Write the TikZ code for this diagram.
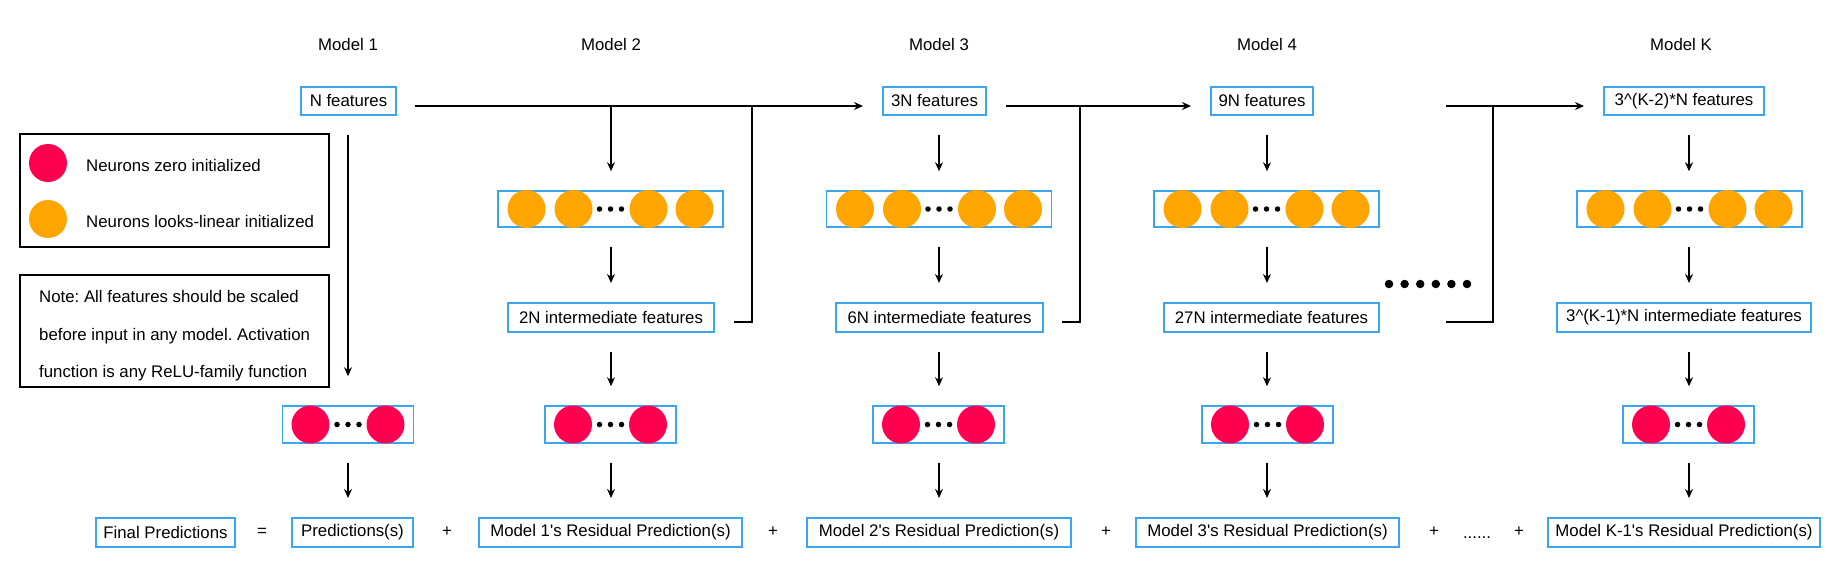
\documentclass[tikz,border=0pt]{standalone}
\usepackage{fontspec}
\setmainfont{Liberation Sans}
\usetikzlibrary{arrows.meta,calc}
\definecolor{bblue}{RGB}{60,165,240}
\definecolor{nred}{RGB}{255,0,80}
\definecolor{norange}{RGB}{255,165,0}
\newcommand\myfs{\fontsize{16.8}{20}\selectfont}
\newcommand\notefs{\fontsize{16.8}{37.5}\selectfont}
\frenchspacing
\begin{document}
\begin{tikzpicture}[x=1pt,y=-1pt,
 box/.style={draw=bblue, line width=2pt, inner sep=0pt, font=\myfs, minimum height=28pt},
 lbl/.style={font=\myfs, inner sep=0pt},
 nbox/.style={draw=bblue, line width=1.5pt, inner sep=0pt, minimum height=36pt},
 orn/.style={circle, fill=norange, minimum size=38pt, inner sep=0pt},
 rdn/.style={circle, fill=nred, minimum size=38pt, inner sep=0pt},
 ndot/.style={circle, fill=black, minimum size=5.5pt, inner sep=0pt},
 bdot/.style={circle, fill=black, minimum size=8.5pt, inner sep=0pt},
 arr/.style={-{Stealth[length=9pt,width=8pt]}, line width=2pt},
 link/.style={arr, shorten <=19pt, shorten >=19pt},
 wire/.style={line width=2pt},
 framebox/.style={draw=black, line width=2.5pt, inner sep=0pt, minimum width=309pt},
 ]
\useasboundingbox (0,0) rectangle (1838,588);

% columns
\coordinate (c1) at (348,0);
\coordinate (c2) at (611,0);
\coordinate (c3) at (939,0);
\coordinate (c4) at (1267,0);
\coordinate (cK) at (1689,0);

% titles
\node[lbl] (t1) at (348,44) {Model 1};
\node[lbl] (t2) at (611,44) {Model 2};
\node[lbl] (t3) at (939,44) {Model 3};
\node[lbl] (t4) at (1267,44) {Model 4};
\node[lbl] (tK) at (1681,44) {Model K};

% feature boxes
\node[box, minimum width=95pt] (f1) at (348.5,101) {N features};
\node[box, minimum width=103pt] (f3) at (934.5,101) {3N features};
\node[box, minimum width=102pt] (f4) at (1262,101) {9N features};
\node[box, minimum width=160pt] (fK) at (1684,101) {3\textasciicircum(K-2)*N features};

% orange layers
\foreach \n/\x in {2/610.5,3/939,4/1266.5,K/1689.5}{
  \node[nbox, minimum width=225pt] (o\n) at (\x,209) {};
  \node[orn] (o\n a) at (\x-84,209) {};
  \node[orn] (o\n b) at (\x-37,209) {};
  \node[orn] (o\n c) at (\x+38,209) {};
  \node[orn] (o\n d) at (\x+84,209) {};
  \node[ndot] (o\n x) at (\x-11,209) {};
  \node[ndot] (o\n y) at (\x,209) {};
  \node[ndot] (o\n z) at (\x+11,209) {};
}

% intermediate boxes
\node[box, minimum width=206pt, minimum height=29pt] (i2) at (611,317.5) {2N intermediate features};
\node[box, minimum width=207pt, minimum height=29pt] (i3) at (939.5,317.5) {6N intermediate features};
\node[box, minimum width=215pt, minimum height=29pt] (i4) at (1271.5,317.5) {27N intermediate features};
\node[box, minimum width=254pt, minimum height=29pt] (iK) at (1684,317.5) {3\textasciicircum(K-1)*N intermediate features};

% red layers
\foreach \n/\x in {1/348,2/610.5,3/938.5,4/1267.5,K/1688.5}{
  \node[nbox, minimum width=131pt, minimum height=37pt] (r\n) at (\x,424.5) {};
  \node[rdn] (r\n a) at (\x-37.5,424.5) {};
  \node[rdn] (r\n b) at (\x+37.5,424.5) {};
  \node[ndot] (r\n x) at (\x-11,424.5) {};
  \node[ndot] (r\n y) at (\x,424.5) {};
  \node[ndot] (r\n z) at (\x+11,424.5) {};
}

% bottom row
\node[box, minimum width=139pt, minimum height=29pt] (fp) at (165.5,532.5) {Final Predictions};
\node[lbl] (eq) at (262,532) {=};
\node[box, minimum width=121pt, minimum height=29pt] (p1) at (352.5,532.5) {Predictions(s)};
\node[lbl] (pl1) at (447,532) {+};
\node[box, minimum width=263pt, minimum height=29pt] (b1) at (610.5,532.5) {Model 1\textquotesingle s Residual Prediction(s)};
\node[lbl] (pl2) at (773,532) {+};
\node[box, minimum width=264pt, minimum height=29pt] (b2) at (939,532.5) {Model 2\textquotesingle s Residual Prediction(s)};
\node[lbl] (pl3) at (1106,532) {+};
\node[box, minimum width=263pt, minimum height=29pt] (b3) at (1267.5,532.5) {Model 3\textquotesingle s Residual Prediction(s)};
\node[lbl] (pl4) at (1434,532) {+};
\node[lbl, anchor=base] (dots) at (1477,538) {......};
\node[lbl] (pl5) at (1519,532) {+};
\node[box, minimum width=272pt, minimum height=29pt] (bK) at (1684,532.5) {Model K-1\textquotesingle s Residual Prediction(s)};

% legend
\node[framebox, minimum height=113pt] (legend) at (174.5,190.5) {};
\node[rdn] (lr) at (48,163) {};
\node[orn] (lo) at (48,219) {};
\node[lbl, anchor=west] (lrt) at (86,165) {Neurons zero initialized};
\node[lbl, anchor=west] (lot) at (86,221) {Neurons looks-linear initialized};

% note
\node[framebox, minimum height=112pt] (notebox) at (174.5,331) {};
\node[font=\notefs, align=left, anchor=west, inner sep=0pt] (notetext) at (39,336)
 {Note: All features should be scaled\\before input in any model. Activation\\function is any ReLU-family function};

% model 1 arrows
\draw[arr, shorten <=19pt, shorten >=29pt] (f1.south -| c1) -- (r1.north -| c1);
\draw[link] (r1.south -| c1) -- (p1.north -| c1);

% model 2
\coordinate (j2) at (611,106);
\draw[arr, shorten >=19pt] (j2) -- (o2.north -| c2);
\draw[link] (o2.south -| c2) -- (i2.north -| c2);
\draw[link] (i2.south -| c2) -- (r2.north -| c2);
\draw[link] (r2.south -| c2) -- (b1.north -| c2);

% model 3
\draw[link] (f3.south -| c3) -- (o3.north -| c3);
\draw[link] (o3.south -| c3) -- (i3.north -| c3);
\draw[link] (i3.south -| c3) -- (r3.north -| c3);
\draw[link] (r3.south -| c3) -- (b2.north -| c3);

% model 4
\draw[link] (f4.south -| c4) -- (o4.north -| c4);
\draw[link] (o4.south -| c4) -- (i4.north -| c4);
\draw[link] (i4.south -| c4) -- (r4.north -| c4);
\draw[link] (r4.south -| c4) -- (b3.north -| c4);

% model K
\draw[link] (fK.south -| cK) -- (oK.north -| cK);
\draw[link] (oK.south -| cK) -- (iK.north -| cK);
\draw[link] (iK.south -| cK) -- (rK.north -| cK);
\draw[link] (rK.south -| cK) -- (bK.north -| cK);

% horizontal feature flow
\coordinate (u2) at (752,106);
\coordinate (u3) at (1080,106);
\coordinate (u4) at (1493,106);
\coordinate (s4) at (1446,106);
\coordinate (s4b) at (1446,322);
\draw[arr, line width=2.5pt] ([xshift=18pt,yshift=-5pt]f1.east) -- ([xshift=-19pt,yshift=-5pt]f3.west);
\draw[wire] ([xshift=19pt,yshift=-4.5pt]i2.east) -| (u2);
\draw[arr, line width=2.5pt] ([xshift=19pt,yshift=-5pt]f3.east) -- ([xshift=-19pt,yshift=-5pt]f4.west);
\draw[wire] ([xshift=18pt,yshift=-4.5pt]i3.east) -| (u3);
\draw[arr, line width=2.5pt] (s4) -- ([xshift=-19pt,yshift=-5pt]fK.west);
\draw[wire] (s4b) -| (u4);

% big ellipsis
\foreach \k in {0,...,5}{
  \node[bdot] (bd\k) at (1389+15.6*\k,284) {};
}
\end{tikzpicture}
\end{document}
